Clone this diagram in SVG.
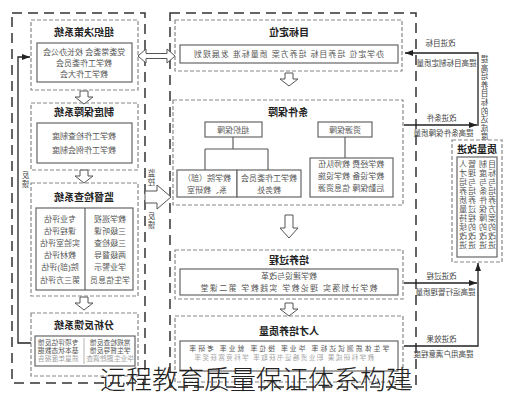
<svg xmlns="http://www.w3.org/2000/svg" width="512" height="400" viewBox="0 0 512 400">
<defs>
<style>
text{font-family:"Liberation Sans","Noto Sans CJK SC",sans-serif}
.t{font-size:10px;font-weight:bold;fill:#222;text-anchor:middle}
.b{font-size:8px;fill:#555;text-anchor:middle}
.x{font-size:6.8px;fill:#555;text-anchor:middle}
.s{font-size:7.5px;fill:#444;text-anchor:middle}
.m{transform-box:fill-box;transform-origin:center;transform:scaleX(-1)}
.db{fill:none;stroke:#888;stroke-width:1.2;stroke-dasharray:4 2}
.ob{fill:none;stroke:#333;stroke-width:1.5;stroke-dasharray:10 6}
.sb{fill:#fff;stroke:#666;stroke-width:1.2}
.ha{fill:#fff;stroke:#555;stroke-width:1}
.ln{fill:none;stroke:#222;stroke-width:1.3}
.tl{fill:none;stroke:#555;stroke-width:1.1}
</style>
<marker id="ah" viewBox="0 0 8 6" refX="8" refY="3" markerWidth="8" markerHeight="6" markerUnits="userSpaceOnUse" orient="auto"><path d="M0,0 L8,3 L0,6 z" fill="#222"/></marker>
<path id="da" d="M-4,0 H4 V6 H9 L0,13 L-9,6 H-4 Z"/>
</defs>
<rect width="512" height="400" fill="#fff"/>

<g id="panels">
<rect class="ob" x="12" y="13" width="133" height="370"/>
<rect class="ob" x="170" y="13" width="246" height="374"/>
</g>

<g id="connectors">
<path class="ln" d="M31,343 H18 V57 H30" marker-end="url(#ah)"/>
<path class="ha" d="M138,56 L146,49 V53.5 H167 V49 L175,56 L167,63 V58.5 H146 V63 Z"/>
<path class="ha" d="M145,191 H157 V185 L171,197 L157,209 V203 H145 Z"/>
<use href="#da" class="ha" x="84" y="91"/>
<use href="#da" class="ha" x="84" y="170"/>
<use href="#da" class="ha" x="84" y="297"/>
<use href="#da" class="ha" x="289" y="73"/>
<path class="ha" d="M285,215 H293 V228 H298 L289,238 L280,228 H285 Z"/>
<use href="#da" class="ha" x="289" y="303"/>
<path class="tl" d="M233,137 V149 M205,149 H268 M205,149 V170 M268,149 V170 M345,137 V158"/>
<path class="ln" d="M478,126 V53 H405" marker-end="url(#ah)"/>
<path class="ln" d="M404,125 H477" marker-end="url(#ah)"/>
<path class="ln" d="M404,346 H478 V263" marker-end="url(#ah)"/>
<path class="ln" d="M404,283 H477" marker-end="url(#ah)"/>
</g>

<g id="edge-labels">
<text class="s m" x="25" y="178">反<tspan x="25" dy="9">馈</tspan></text>
<text class="s m" x="151" y="176">监<tspan x="151" dy="8.5">控</tspan></text>
<text class="s m" x="151" y="219">反<tspan x="151" dy="8.5">馈</tspan></text>
<text class="s m" x="440" y="46">改进目标</text>
<text class="s m" x="446" y="66">提高目标制定质量</text>
<text class="s m" x="441" y="121">改进条件</text>
<text class="s m" x="443" y="136">提高条件保障质量</text>
<text class="s m" x="441" y="279">改进过程</text>
<text class="s m" x="445" y="295">提高运行管理质量</text>
<text class="s m" x="441" y="342">改进效果</text>
<text class="s m" x="443" y="357">提高用户满意程度</text>
<text class="s m" x="484" y="62">提<tspan x="484" dy="8.6">高</tspan><tspan x="484" dy="8.6">培</tspan><tspan x="484" dy="8.6">养</tspan><tspan x="484" dy="8.6">目</tspan><tspan x="484" dy="8.6">标</tspan><tspan x="484" dy="8.6">的</tspan><tspan x="484" dy="8.6">达</tspan><tspan x="484" dy="8.6">成</tspan><tspan x="484" dy="8.6">度</tspan></text>
</g>

<g id="n-zuzhijuece">
<rect class="db" x="31" y="20" width="107" height="70"/>
<text class="t m" x="84" y="36">组织决策系统</text>
<rect class="sb" x="37" y="43" width="95" height="39"/>
<text class="b m" x="84" y="55">党委常委会 校长办公会</text>
<text class="b m" x="84" y="66">教学工作委员会</text>
<text class="b m" x="84" y="77">教学工作大会</text>
</g>

<g id="n-zhidubaozhang">
<rect class="db" x="31" y="103" width="107" height="67"/>
<text class="t m" x="84" y="116">制度保障系统</text>
<rect class="sb" x="37" y="123" width="95" height="40"/>
<text class="b m" x="84" y="139">教学工作检查制度</text>
<text class="b m" x="84" y="153">教学工作例会制度</text>
</g>

<g id="n-jianduJiancha">
<rect class="db" x="31" y="183" width="107" height="113"/>
<text class="t m" x="84" y="201">监督检查系统</text>
<rect class="sb" x="36" y="208" width="97" height="82"/>
<line class="tl" x1="85" y1="208" x2="85" y2="290"/>
<text class="b m" x="60" y="222">专业评估</text>
<text class="b m" x="60" y="234">课程评估</text>
<text class="b m" x="60" y="246">实验室评估</text>
<text class="b m" x="60" y="258">教材评估</text>
<text class="b m" x="60" y="270">院(部)评估</text>
<text class="b m" x="60" y="283">第三方评估</text>
<text class="b m" x="110" y="222">教学巡视</text>
<text class="b m" x="110" y="234">三级听课</text>
<text class="b m" x="110" y="246">三级检查</text>
<text class="b m" x="110" y="258">两级督导</text>
<text class="b m" x="110" y="270">学业警示</text>
<text class="b m" x="110" y="283">学生信息员</text>
</g>

<g id="n-fenxifankui">
<rect class="db" x="31" y="313" width="107" height="63"/>
<text class="t m" x="84" y="329">分析反馈系统</text>
<rect class="sb" x="35" y="336" width="100" height="30"/>
<line class="tl" x1="84" y1="338" x2="84" y2="364" stroke-opacity="0.4"/>
<text class="x m" x="58" y="345">专项评估反馈</text>
<text class="x m" x="58" y="353">基本状态数据</text>
<text class="x m" x="58" y="361" fill-opacity="0.6">质量年度报告</text>
<text class="x m" x="110" y="345">常规检查反馈</text>
<text class="x m" x="110" y="353">学生督导反馈</text>
<text class="x m" x="110" y="361" fill-opacity="0.6">毕业生跟踪调查</text>
</g>

<g id="n-mubiaodingwei">
<rect class="db" x="175" y="20" width="227" height="51"/>
<text class="t m" x="289" y="36">目标定位</text>
<rect class="sb" x="180" y="45" width="218" height="18"/>
<text class="b m" x="289" y="57" textLength="190" lengthAdjust="spacing">办学定位 培养目标 培养方案 质量标准 发展规划</text>
</g>

<g id="n-tiaojianbaozhang">
<rect class="db" x="173" y="100" width="230" height="105"/>
<text class="t m" x="288" y="116">条件保障</text>
<rect class="sb" x="205" y="122" width="57" height="15"/>
<text class="b m" x="233" y="133">组织保障</text>
<rect class="sb" x="318" y="122" width="54" height="15"/>
<text class="b m" x="345" y="133">资源保障</text>
<rect class="sb" x="177" y="170" width="60" height="27"/>
<text class="b m" x="207" y="181">教学院（部）</text>
<text class="b m" x="207" y="193">系、教研室</text>
<rect class="sb" x="237" y="170" width="64" height="27"/>
<text class="b m" x="269" y="181">教学工作委员会</text>
<text class="b m" x="269" y="193">教务处</text>
<rect class="sb" x="310" y="158" width="83" height="39"/>
<text class="b m" x="351" y="167">教学经费 教师队伍</text>
<text class="b m" x="351" y="179">教学设备 教学设施</text>
<text class="b m" x="351" y="191">后勤保障 信息资源</text>
</g>

<g id="n-peiyangguocheng">
<rect class="db" x="175" y="250" width="228" height="49"/>
<text class="t m" x="289" y="264">培养过程</text>
<rect class="sb" x="180" y="269" width="218" height="26"/>
<text class="b m" x="289" y="279">教学建设与改革</text>
<text class="b m" x="289" y="291" textLength="177" lengthAdjust="spacing">教学计划落实 理论教学 实践教学 第二课堂</text>
</g>

<g id="n-rencaizhiliang">
<rect class="db" x="175" y="316" width="228" height="66"/>
<text class="t m" x="289" y="335">人才培养质量</text>
<rect class="sb" x="180" y="341" width="218" height="30"/>
<text class="x m" x="289" y="351" textLength="200" lengthAdjust="spacing">学生体质测试达标率 毕业率 授位率 就业率 考研率</text>
<text class="x m" x="284" y="360" textLength="180" lengthAdjust="spacing" fill-opacity="0.55">教学科研成果 职业资格证书获取率 学科竞赛获奖率</text>
</g>

<g id="n-zhilianggaijin">
<rect class="db" x="452" y="140" width="50" height="122"/>
<text class="t m" x="477" y="153">质量改进</text>
<rect class="sb" x="457" y="157" width="40" height="100"/>
<text class="b m" x="492" y="167">目<tspan x="492" dy="9">标</tspan><tspan x="492" dy="9">与</tspan><tspan x="492" dy="9">培</tspan><tspan x="492" dy="9">养</tspan><tspan x="492" dy="9">方</tspan><tspan x="492" dy="9">案</tspan><tspan x="492" dy="9">的</tspan><tspan x="492" dy="9">改</tspan><tspan x="492" dy="9">进</tspan></text>
<text class="b m" x="483" y="167">制<tspan x="483" dy="9">度</tspan><tspan x="483" dy="9">与</tspan><tspan x="483" dy="9">条</tspan><tspan x="483" dy="9">件</tspan><tspan x="483" dy="9">保</tspan><tspan x="483" dy="9">障</tspan><tspan x="483" dy="9">的</tspan><tspan x="483" dy="9">改</tspan><tspan x="483" dy="9">进</tspan></text>
<text class="b m" x="472" y="167">管<tspan x="472" dy="9">理</tspan><tspan x="472" dy="9">与</tspan><tspan x="472" dy="9">培</tspan><tspan x="472" dy="9">养</tspan><tspan x="472" dy="9">过</tspan><tspan x="472" dy="9">程</tspan><tspan x="472" dy="9">的</tspan><tspan x="472" dy="9">改</tspan><tspan x="472" dy="9">进</tspan></text>
<text class="b m" x="463" y="167">人<tspan x="463" dy="9">才</tspan><tspan x="463" dy="9">培</tspan><tspan x="463" dy="9">养</tspan><tspan x="463" dy="9">质</tspan><tspan x="463" dy="9">量</tspan><tspan x="463" dy="9">持</tspan><tspan x="463" dy="9">续</tspan><tspan x="463" dy="9">改</tspan><tspan x="463" dy="9">进</tspan></text>
</g>

<g id="caption">
<text x="100" y="389" font-size="26" font-weight="300" fill="#222">远程教育质量保证体系构建</text>
</g>
</svg>
